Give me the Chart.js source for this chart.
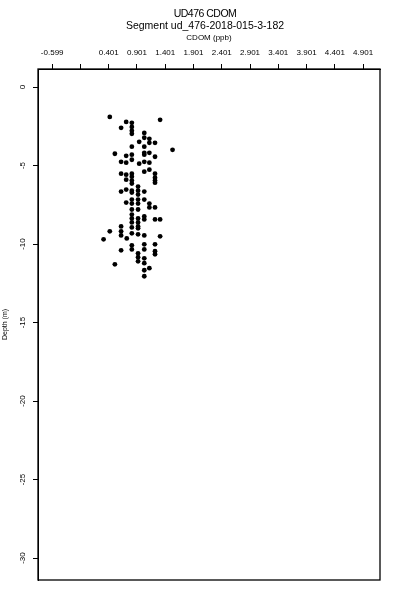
<!DOCTYPE html>
<html>
<head>
<meta charset="utf-8">
<script src="https://cdn.jsdelivr.net/npm/chart.js@4/dist/chart.umd.min.js"></script>
<style>
  body { margin: 0; background: #fff; }
  #wrap { width: 400px; height: 600px; }
</style>
</head>
<body>
<div id="wrap"><canvas id="myChart" width="400" height="600"></canvas></div>
<script>
// CDOM (ppb) vs depth (m)
const cdom = [
  0.42, 1.31, 0.71, 0.81, 0.81, 0.62, 0.81, 0.81, 1.03, 1.03,
  0.94, 1.12, 1.12, 1.22, 0.81, 1.03, 1.53, 0.51, 0.71, 0.81,
  1.03, 1.03, 1.12, 1.22, 0.62, 0.71, 0.81, 0.94, 1.03, 1.12,
  0.62, 0.71, 0.81, 0.81, 0.81, 1.03, 1.12, 1.22, 1.22, 1.22,
  0.71, 0.81, 1.22, 0.62, 0.71, 0.81, 0.81, 0.92, 0.92, 0.92,
  1.03, 0.71, 0.81, 0.81, 0.92, 0.92, 1.03, 1.12, 1.12, 1.22,
  0.81, 0.92, 0.81, 0.81, 0.92, 1.03, 1.03, 1.22, 1.31, 0.62,
  0.92, 0.81, 0.92, 0.81, 0.92, 0.42, 0.62, 0.81, 0.92, 1.03,
  0.62, 0.72, 0.31, 1.31, 0.81, 0.81, 1.03, 1.03, 1.22, 1.22,
  1.22, 0.62, 0.92, 0.92, 0.92, 1.03, 1.03, 1.12, 1.03, 1.03,
  0.51
];
const depth = [
  -1.90, -2.09, -2.22, -2.28, -2.54, -2.60, -2.79, -2.98, -2.92, -3.23,
  -3.49, -3.30, -3.55, -3.55, -3.80, -3.80, -4.00, -4.25, -4.38, -4.31,
  -4.19, -4.31, -4.19, -4.44, -4.76, -4.82, -4.63, -4.88, -4.76, -4.82,
  -5.52, -5.58, -5.52, -5.71, -5.96, -5.39, -5.26, -5.52, -5.77, -5.96,
  -5.90, -6.15, -6.09, -6.66, -6.53, -6.60, -6.72, -6.34, -6.60, -6.85,
  -6.66, -7.36, -7.17, -7.42, -7.17, -7.42, -7.17, -7.42, -7.67, -7.67,
  -7.80, -7.80, -8.12, -8.37, -8.37, -8.24, -8.43, -8.43, -8.43, -8.88,
  -8.88, -8.62, -8.62, -8.94, -9.00, -9.19, -9.19, -9.32, -9.38, -9.45,
  -9.45, -9.64, -9.70, -9.51, -10.08, -10.34, -10.02, -10.34, -10.02, -10.46,
  -10.65, -10.40, -10.59, -10.84, -11.10, -10.91, -11.22, -11.54, -11.67, -12.05,
  -11.29
];

const xTickValues = [-0.599, -0.099, 0.401, 0.901, 1.401, 1.901, 2.401, 2.901, 3.401, 3.901, 4.401, 4.901];
const xTickLabels = ["-0.599", "", "0.401", "0.901", "1.401", "1.901", "2.401", "2.901", "3.401", "3.901", "4.401", "4.901"];
const yTickValues = [0, -5, -10, -15, -20, -25, -30];
const yTickLabels = ["0", "-5", "-10", "-15", "-20", "-25", "-30"];

const titleLines = ["UD476 CDOM", "Segment ud_476-2018-015-3-182"];
const fontFamily = "'Liberation Sans', Arial, Helvetica, sans-serif";

const points = cdom.map((v, i) => ({ x: v, y: depth[i] }));

// box, main titles and rotated y labels (R style)
const decor = {
  id: "decor",
  afterDraw(chart) {
    const { ctx, chartArea } = chart;
    ctx.save();
    ctx.strokeStyle = "#000";
    ctx.lineWidth = 1.3;
    ctx.strokeRect(chartArea.left, chartArea.top, chartArea.right - chartArea.left, chartArea.bottom - chartArea.top);

    ctx.fillStyle = "#000";
    ctx.textAlign = "center";
    ctx.textBaseline = "middle";
    ctx.font = "10.5px " + fontFamily;
    ctx.letterSpacing = "-0.5px";
    ctx.fillText(titleLines[0], 205, 14);
    ctx.letterSpacing = "0px";
    ctx.fillText(titleLines[1], 205, 26);

    const ys = chart.scales.y;
    ctx.font = "8px " + fontFamily;
    yTickValues.forEach((v, i) => {
      const py = ys.getPixelForValue(v);
      ctx.save();
      ctx.translate(23, py);
      ctx.rotate(-Math.PI / 2);
      ctx.fillText(yTickLabels[i], 0, 0);
      ctx.restore();
    });
    ctx.restore();
  }
};

const ctx = document.getElementById("myChart").getContext("2d");

new Chart(ctx, {
  type: "scatter",
  data: {
    datasets: [{
      data: points,
      backgroundColor: "#000",
      borderColor: "#000",
      borderWidth: 0,
      pointStyle: "circle",
      pointRadius: 2.4
    }]
  },
  options: {
    responsive: false,
    animation: false,
    layout: { padding: { left: 0, right: 20, top: 0, bottom: 20 } },
    plugins: {
      legend: { display: false },
      tooltip: { enabled: false },
      title: { display: false }
    },
    scales: {
      x: {
        type: "linear",
        position: "top",
        min: -0.85,
        max: 5.2,
        afterBuildTicks: (scale) => { scale.ticks = xTickValues.map(v => ({ value: v })); },
        afterFit: (scale) => { scale.height = 69; },
        ticks: {
          autoSkip: false,
          maxRotation: 0,
          minRotation: 0,
          padding: 6,
          color: "#000",
          font: { family: fontFamily, size: 8 },
          callback: (value, index) => xTickLabels[index]
        },
        grid: { drawOnChartArea: false, drawTicks: true, tickLength: 5, color: "#000", lineWidth: 1 },
        border: { display: true, color: "#000", width: 1 },
        title: {
          display: true,
          text: "CDOM (ppb)",
          color: "#000",
          font: { family: fontFamily, size: 8 },
          padding: { top: 33, bottom: 0 }
        }
      },
      y: {
        type: "linear",
        position: "left",
        min: -31.4,
        max: 1.15,
        afterBuildTicks: (scale) => { scale.ticks = yTickValues.map(v => ({ value: v })); },
        afterFit: (scale) => { scale.width = 38; },
        ticks: { display: false },
        grid: { drawOnChartArea: false, drawTicks: true, tickLength: 5, color: "#000", lineWidth: 1 },
        border: { display: true, color: "#000", width: 1 },
        title: {
          display: true,
          text: "Depth (m)",
          color: "#000",
          font: { family: fontFamily, size: 7 },
          padding: { top: 1, bottom: 0 }
        }
      }
    }
  },
  plugins: [decor]
});
</script>
</body>
</html>
